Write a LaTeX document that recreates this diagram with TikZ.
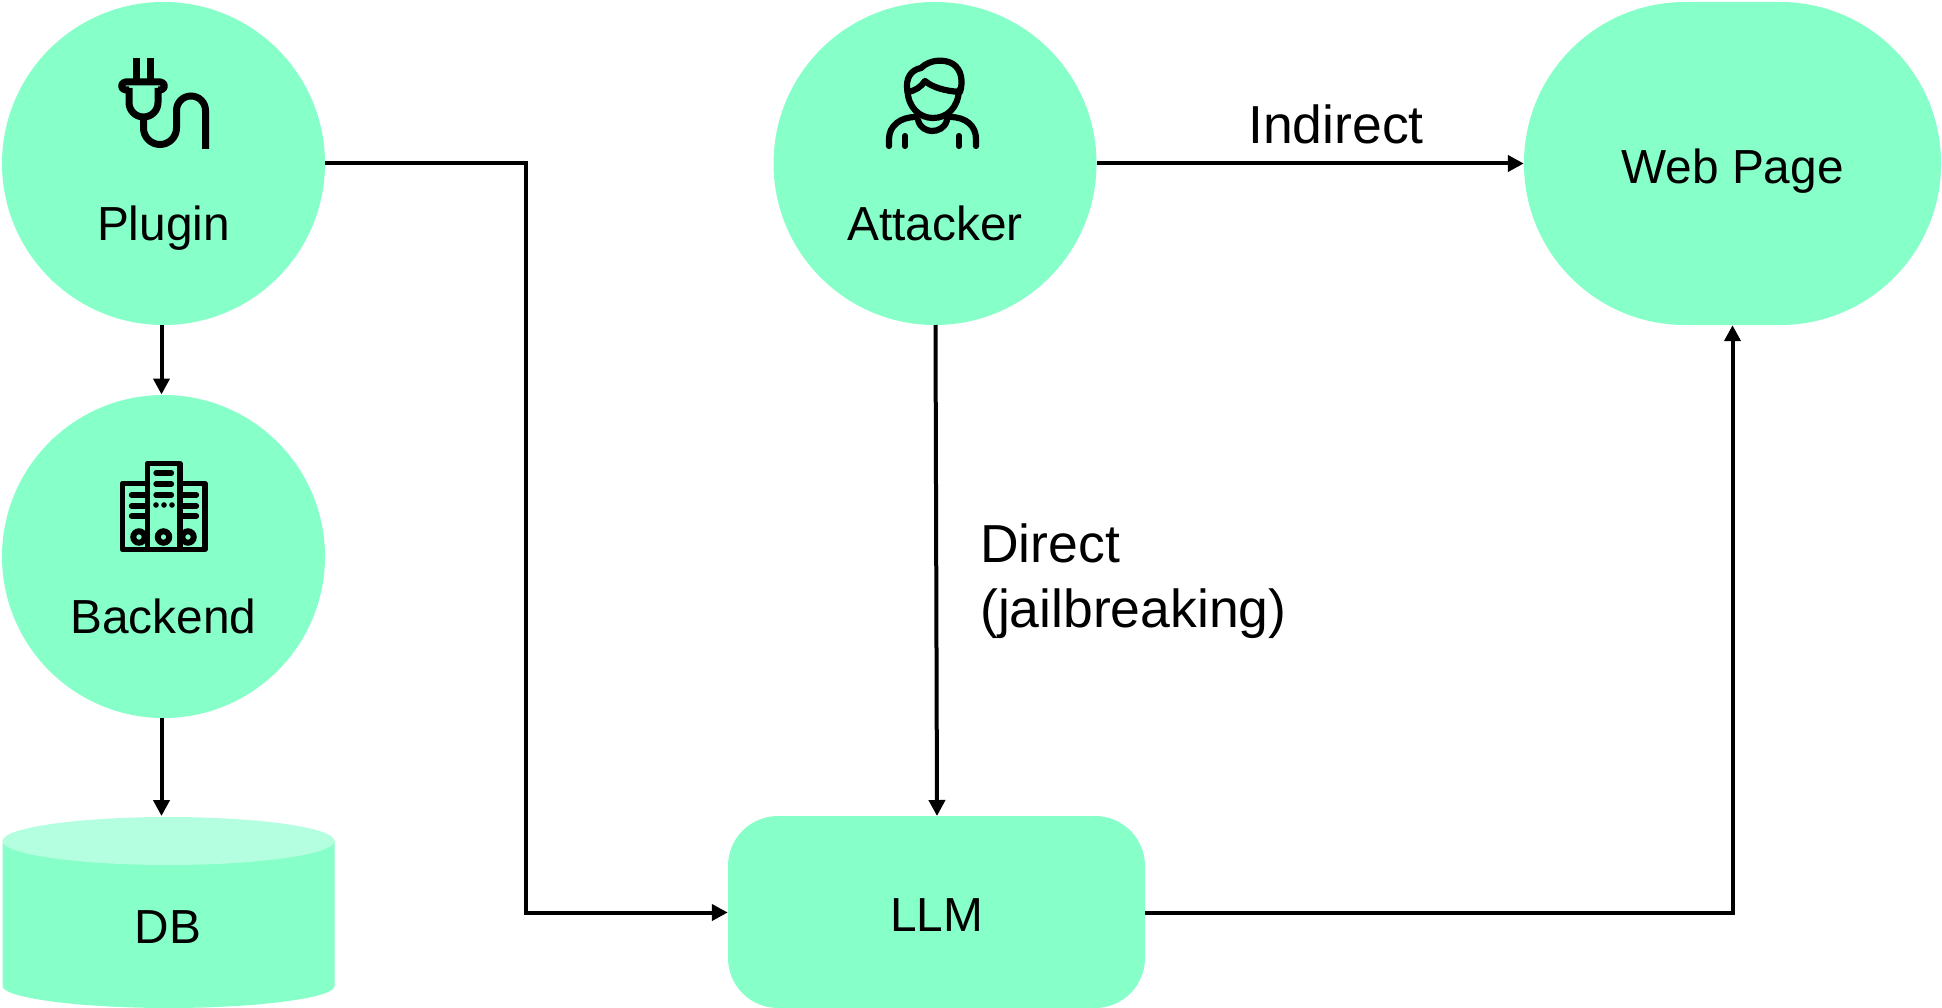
\documentclass[tikz,border=0pt]{standalone}
\usepackage{fontspec}
\setmainfont{Liberation Sans}
\usetikzlibrary{arrows.meta}
\definecolor{mint}{RGB}{134,255,200}
\definecolor{minttop}{RGB}{180,255,223}
\tikzset{
  x=1pt,y=-1pt,
  shapecirc/.style={circle,fill=mint,inner sep=0pt,minimum size=323pt},
  shapebox/.style={rectangle,fill=mint,inner sep=0pt},
  lab/.style={anchor=base,inner sep=0pt,font=\fontsize{47.8}{57}\selectfont},
  edgelab/.style={anchor=base west,inner sep=0pt,font=\fontsize{53.5}{64}\selectfont},
  conn/.style={line width=4pt,-{Triangle[length=16pt,width=16pt]}},
  icon/.style={line width=6.2pt,line cap=round,line join=round},
  iconb/.style={line width=5.3pt,line cap=round,line join=round}
}
\begin{document}
\begin{tikzpicture}
\useasboundingbox (0,0) rectangle (1942,1008);
% nodes
\node[shapecirc] (plugin) at (163.5,163.5) {};
\node[shapecirc] (backend) at (163.5,556.5) {};
\node[shapecirc] (attacker) at (935,163.5) {};
\node[shapebox,rounded corners=161pt,minimum width=417pt,minimum height=323pt] (web) at (1732.5,163.5) {};
\node[shapebox,rounded corners=50pt,minimum width=417pt,minimum height=192pt] (llm) at (936.5,912) {};
\node[inner sep=0pt,minimum width=332pt,minimum height=192pt] (db) at (168.5,912) {};
% cylinder
\fill[mint] (2.5,841) -- (2.5,986) .. controls (2.5,998) and (80,1008) .. (168.5,1008) .. controls (257,1008) and (334.5,998) .. (334.5,986) -- (334.5,841) -- cycle;
\fill[minttop] (168.5,841) ellipse [x radius=166pt,y radius=24pt];
% labels
\node[lab] (tplugin) at (163.5,240.5) {Plugin};
\node[lab] (tbackend) at (163.5,633.5) {Backend};
\node[lab] (tattacker) at (935,240.5) {Attacker};
\node[lab] (tweb) at (1732.5,184) {Web Page};
\node[lab] (tllm) at (936.5,931.5) {LLM};
\node[lab] (tdb) at (168,943.5) {DB};
\node[edgelab] (tindirect) at (1248,143.5) {Indirect};
\node[edgelab] (tdirect) at (980,562.5) {Direct};
\node[edgelab] (tjail) at (980,627) {(jailbreaking)};
% connectors
\coordinate (pb1) at (161.5,325);
\coordinate (pb2) at (161.5,394.5);
\coordinate (bd1) at (161.5,718);
\coordinate (bd2) at (161.5,816);
\coordinate (a1) at (935.5,325);
\coordinate (a2) at (937,816);
\coordinate (c1) at (526,163.5);
\coordinate (c2) at (526,912.5);
\coordinate (c3) at (1732.5,912.5);
\draw[conn] (pb1) -- (pb2);
\draw[conn] (bd1) -- (bd2);
\draw[conn] (a1) -- (a2);
\draw[conn] (plugin.east) -- (c1) -- (c2) -- (c2 -| llm.west);
\draw[conn] (c3 -| llm.east) -- (c3) -- (web.south -| c3);
\draw[conn] (attacker.east) -- (web.west);
% plug icon
\draw[line width=7pt] (136,58) -- (136,82) (150,58) -- (150,82);
\draw[line width=7pt,line join=round,rounded corners=4pt]
  (129,90) -- (121.5,90) -- (121.5,82) -- (164.5,82) -- (164.5,90) -- (158,90);
\draw[line width=7pt]
  (129,88) -- (129,102.5) arc[start angle=180,end angle=0,x radius=14.5pt,y radius=-14.5pt] -- (158,88);
\draw[line width=7pt]
  (143.5,117) -- (143.5,128) arc[start angle=180,end angle=0,x radius=16.5pt,y radius=-16.5pt] -- (176.5,110.5)
  arc[start angle=180,end angle=0,x radius=14.5pt,y radius=14.5pt] -- (205.5,149);
% attacker icon
\draw[icon]
  (907.5,90) .. controls (908,108) and (920,118) .. (933,118) .. controls (947,118) and (958,108) .. (959,90);
\draw[icon]
  (907.5,92) .. controls (915,91) and (921,87) .. (925,81) .. controls (932,87) and (944,91) .. (960,92)
  .. controls (963,82) and (962,70) .. (953,64) .. controls (945,59) and (930,59) .. (921,68)
  .. controls (911,70) and (905,78) .. (907.5,92);
\draw[icon]
  (889,146) -- (889,139) .. controls (889,126) and (900,117) .. (916,117);
\draw[icon]
  (976,146) -- (976,139) .. controls (976,126) and (966,117) .. (950,117);
\draw[icon] (905,136) -- (905,146) (959,136) -- (959,146);
\draw[icon]
  (918,120) .. controls (920,128) and (927,131) .. (932,131) .. controls (938,131) and (945,128) .. (947,120);
% backend icon
\draw[iconb] (147.5,463.5) rectangle (180,549.5);
\draw[iconb] (147.5,483.5) -- (122.5,483.5) -- (122.5,549.5) -- (147.5,549.5);
\draw[iconb] (180,483.5) -- (205,483.5) -- (205,549.5) -- (180,549.5);
\foreach \yy in {473,484,495} \draw[iconb] (156,\yy) -- (171.5,\yy);
\foreach \yy in {495,506,516} {
  \draw[iconb] (131.5,\yy) -- (145,\yy);
  \draw[iconb] (183,\yy) -- (196.5,\yy);
}
\foreach \xx in {156,164,172} \fill (\xx,505) circle[radius=2.8pt];
\draw[line width=6pt] (163.5,537) circle[radius=5.7pt];
\draw[line width=6pt] (139,537) circle[radius=5.7pt];
\draw[line width=6pt] (188,537) circle[radius=5.7pt];
\end{tikzpicture}
\end{document}
